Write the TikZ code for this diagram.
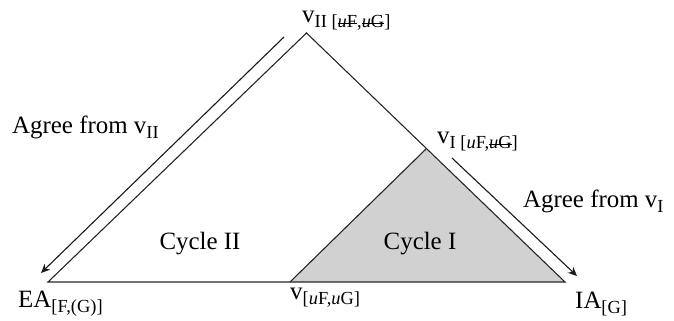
\documentclass[tikz,border=0pt]{standalone}
\usepackage{fontspec}
\setmainfont{Liberation Serif}
\usetikzlibrary{arrows.meta}
\newcommand\mystrk[1]{\setbox0\hbox{#1}\rlap{\rule[0.36ex]{\wd0}{0.09ex}}\box0}
\newcommand\mysub[1]{\raisebox{-5bp}{\fontsize{18.5}{22}\selectfont #1}}
\begin{document}
\begin{tikzpicture}[x=1bp,y=-1bp,
  edge/.style={draw=black!85, line width=1.1bp},
  agree/.style={draw=black!90, line width=1.1bp, -{Stealth[length=9bp,width=8bp]}},
  lbl/.style={font=\fontsize{25}{30}\selectfont, inner sep=0pt, anchor=base west}]
\useasboundingbox (0,0) rectangle (674,320);
\coordinate (L) at (48,282);
\coordinate (T) at (306.5,33);
\coordinate (R) at (565,282);
\coordinate (M) at (290,282);
\coordinate (P) at (426,149);
\fill[black!18] (M) -- (P) -- (R) -- cycle;
\draw[edge] (L) -- (T) -- (R) -- cycle;
\draw[edge] (M) -- (P);
\coordinate (a1) at (284,37);
\coordinate (a2) at (41,273);
\coordinate (b1) at (452,158);
\coordinate (b2) at (577,276);
\draw[agree] (a1) -- (a2);
\draw[agree] (b1) -- (b2);
\node[lbl] (vII) at (302,22) {v\mysub{II [\mystrk{\textit{u}F},\mystrk{\textit{u}G}]}};
\node[lbl] (vI) at (437,143) {v\mysub{I [\textit{u}F,\mystrk{\textit{u}G}]}};
\node[lbl] (agII) at (12,133) {Agree from v\mysub{II}};
\node[lbl] (agI) at (523,207) {Agree from v\mysub{I}};
\node[lbl, anchor=base] (cII) at (200,249) {Cycle II};
\node[lbl, anchor=base] (cI) at (420,249) {Cycle I};
\node[lbl] (EA) at (18,307) {EA\mysub{[F,(G)]}};
\node[lbl] (vM) at (290,299) {v\mysub{[\textit{u}F,\textit{u}G]}};
\node[lbl] (IA) at (575,308) {IA\mysub{[G]}};
\end{tikzpicture}
\end{document}
